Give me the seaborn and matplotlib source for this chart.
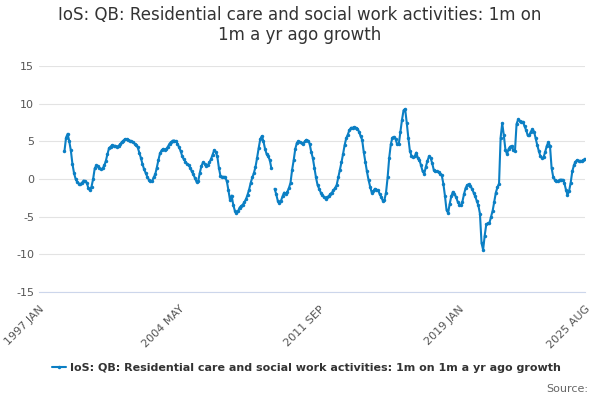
import numpy as np
import pandas as pd
import matplotlib
matplotlib.use('Agg')
import matplotlib.pyplot as plt
import seaborn as sns

# monthly values, 1998 MAY .. 2025 AUG (one missing month)
start_month = 16  # months after 1997 JAN
values = [
    3.7, 5.5, 6.0, 5.0, 3.8, 2.0, 0.8, 0.0, -0.4, -0.6, -0.7, -0.5, -0.2, -0.3, -0.5, -1.2,
    -1.5, -1.0, 0.0, 1.4, 1.8, 1.7, 1.4, 1.3, 1.4, 1.8, 2.4, 3.3, 4.1, 4.3, 4.5, 4.4,
    4.4, 4.3, 4.4, 4.6, 4.9, 5.1, 5.3, 5.3, 5.2, 5.1, 5.0, 4.9, 4.7, 4.5, 4.2, 3.5,
    2.8, 2.0, 1.3, 0.8, 0.3, -0.1, -0.3, -0.3, 0.2, 0.6, 1.5, 2.5, 3.4, 3.8, 4.0, 3.9,
    4.0, 4.3, 4.7, 4.9, 5.1, 5.1, 5.0, 4.7, 4.2, 3.7, 3.0, 2.6, 2.3, 2.0, 1.8, 1.5,
    1.0, 0.6, 0.1, -0.4, -0.3, 0.8, 1.7, 2.2, 2.0, 1.7, 1.8, 2.2, 2.6, 3.2, 3.8, 3.6,
    3.0, 1.5, 0.4, 0.3, 0.3, 0.2, -0.3, -1.5, -2.8, -2.2, -3.4, -4.2, -4.5, -4.3, -3.8, -3.6,
    -3.4, -3.1, -2.7, -2.1, -1.4, -0.5, 0.2, 0.8, 1.6, 2.8, 4.1, 5.3, 5.7, 5.0, 4.0, 3.3,
    3.0, 2.5, 1.4, np.nan, -1.3, -2.0, -2.9, -3.2, -2.9, -2.3, -1.8, -2.0, -1.7, -1.2, -0.5, 1.2,
    2.5, 4.0, 4.8, 5.0, 4.9, 4.8, 4.7, 5.0, 5.2, 5.1, 4.7, 3.6, 2.8, 1.5, 0.2, -0.8,
    -1.3, -1.8, -2.1, -2.4, -2.6, -2.4, -2.3, -2.0, -1.8, -1.5, -1.2, -0.8, 0.2, 1.2, 2.2, 3.3,
    4.5, 5.4, 5.9, 6.5, 6.8, 6.8, 6.9, 6.8, 6.7, 6.3, 5.7, 5.2, 3.6, 2.3, 1.0, -0.1,
    -1.0, -1.8, -1.6, -1.3, -1.4, -1.5, -2.0, -2.4, -2.9, -2.8, -1.8, 0.2, 2.8, 4.6, 5.5, 5.6,
    5.3, 4.6, 4.6, 6.2, 7.8, 9.1, 9.3, 7.5, 5.5, 3.7, 3.1, 2.9, 3.0, 3.5, 2.8, 2.5,
    1.8, 1.0, 0.7, 1.6, 2.4, 3.0, 2.8, 2.1, 1.2, 1.0, 1.0, 0.9, 0.7, 0.5, -0.6, -2.2,
    -4.1, -4.5, -3.3, -2.3, -1.7, -2.0, -2.4, -3.0, -3.4, -3.5, -3.0, -2.0, -1.2, -0.8, -0.7, -0.9,
    -1.3, -1.8, -2.3, -2.9, -3.5, -4.6, -8.5, -9.4, -7.5, -6.0, -5.9, -5.8, -5.0, -4.2, -3.0, -1.8,
    -1.1, -0.6, 5.5, 7.4, 5.8, 3.9, 3.3, 4.0, 4.3, 4.4, 3.8, 3.7, 7.3, 7.9, 7.7, 7.6,
    7.6, 7.0, 6.5, 5.8, 5.8, 6.3, 6.6, 6.3, 5.4, 4.5, 3.7, 3.0, 2.8, 2.9, 3.6, 4.4,
    4.9, 4.4, 1.5, 0.3, -0.1, -0.2, -0.3, -0.1, -0.1, -0.1, -0.5, -1.4, -2.1, -1.6, -0.5, 1.0,
    1.8, 2.3, 2.5, 2.4, 2.4, 2.4, 2.5, 2.7,
]
tick_labels = ['1997 JAN', '2004 MAY', '2011 SEP', '2019 JAN', '2025 AUG']
tick_pos = [0, 88, 176, 264, 343]

df = pd.DataFrame({'m': np.arange(len(values)) + start_month, 'v': values})
blue = '#0b7fc4'
title = 'IoS: QB: Residential care and social work activities: 1m on 1m a yr ago growth'

sns.set_style('white')
plt.rcParams['axes.unicode_minus'] = False
fig, ax = plt.subplots(figsize=(6, 4), dpi=100)
gap = df['v'].isna()
first = df.index[gap][0]
for i, part in enumerate([df.iloc[:first], df.iloc[first + 1:]]):
    sns.lineplot(data=part, x='m', y='v', ax=ax, color=blue, lw=1.5, marker='o',
                 markersize=2.5, markeredgewidth=0, label=title if i == 0 else None)

ax.set_xlim(0, 343)
ax.set_ylim(-15, 15)
ax.set_yticks([-15, -10, -5, 0, 5, 10, 15])
ax.grid(axis='y', color='#e3e3e3', lw=0.8)
ax.set_xticks(tick_pos)
ax.set_xticklabels(tick_labels, rotation=45, ha='right', rotation_mode='anchor', color='#555555')
ax.set_xticks(np.arange(0, 344, 22), minor=True)
ax.tick_params(axis='x', which='both', length=5, color='#ccd6eb', direction='out')
ax.tick_params(axis='y', length=0, labelcolor='#555555')
ax.tick_params(labelsize=8)
ax.set_xlabel('')
ax.set_ylabel('')
for s in ['top', 'right', 'left']:
    ax.spines[s].set_visible(False)
ax.spines['bottom'].set_color('#ccd6eb')
fig.suptitle('IoS: QB: Residential care and social work activities: 1m on\n1m a yr ago growth',
             x=0.5, y=0.985, fontsize=12, color='#333333', linespacing=1.15)
leg = ax.legend(loc='upper center', bbox_to_anchor=(0.49, -0.27), frameon=False, fontsize=8,
                handlelength=1.2, handletextpad=0.4, labelcolor='#333333')
for t in leg.get_texts():
    t.set_fontweight('bold')
fig.text(0.98, 0.02, 'Source:', ha='right', fontsize=8, color='#666666')
fig.subplots_adjust(left=0.065, right=0.975, top=0.835, bottom=0.27)
fig.savefig('out.png')
